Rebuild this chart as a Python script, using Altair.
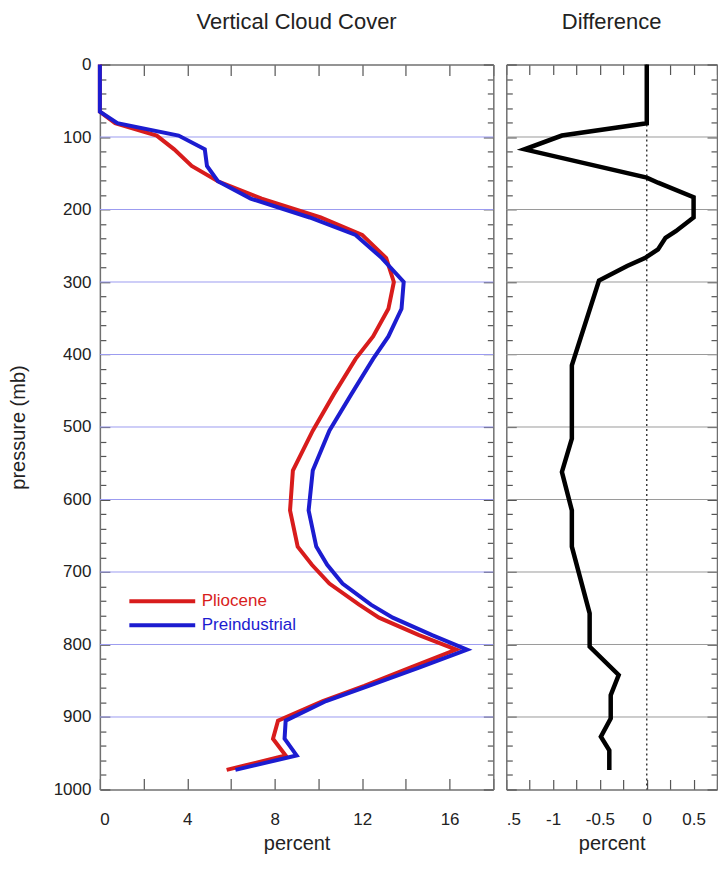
import altair as alt
import pandas as pd

# ---------------- data ----------------
pressure_levels = [0, 65, 81, 98, 117, 140, 161, 185, 211, 235, 267, 300, 337, 375, 406,
                   455, 505, 560, 615, 665, 690, 716, 745, 763, 787, 807, 832, 857, 878,
                   905, 930, 953, 973]
pliocene = [0, 0, 0.7, 2.6, 3.4, 4.2, 5.4, 7.4, 10.1, 12.0, 13.1, 13.45, 13.2, 12.5, 11.7,
            10.7, 9.74, 8.83, 8.7, 9.05, 9.7, 10.5, 11.86, 12.77, 14.6, 16.3, 14.2, 12.1, 10.2,
            8.15, 7.92, 8.5, 5.8]
preindustrial = [0, 0, 0.8, 3.6, 4.8, 4.9, 5.4, 6.9, 9.6, 11.7, 12.9, 13.9, 13.8, 13.2, 12.5,
                 11.5, 10.5, 9.74, 9.55, 9.9, 10.4, 11.1, 12.4, 13.4, 15.2, 16.8, 14.6, 12.3, 10.35,
                 8.5, 8.45, 9.0, 6.2]

diff_pressure = [0, 81, 98, 117, 156, 163, 183, 211, 230, 239, 255, 267, 278, 298, 415,
                 516, 562, 615, 665, 757, 803, 842, 870, 902, 927, 946, 973]
difference = [0, 0, -0.906, -1.305, 0, 0.12, 0.5, 0.5, 0.31, 0.2, 0.12, -0.02, -0.21, -0.51,
              -0.80, -0.80, -0.906, -0.80, -0.80, -0.61, -0.61, -0.30, -0.385, -0.385, -0.49,
              -0.40, -0.40]

series_names = ["Pliocene", "Preindustrial"]
grid_pressure = [100, 200, 300, 400, 500, 600, 700, 800, 900]
y_ticks = list(range(0, 1001, 20))
x_ticks_left = [0, 2, 4, 6, 8, 10, 12, 14, 16, 18]
x_ticks_right = [-1.5, -1.25, -1.0, -0.75, -0.5, -0.25, 0.0, 0.25, 0.5, 0.75]
zero_line = [0]

FONT = "Liberation Sans"
RED = "#d81c1c"
BLUE = "#1c1cd0"

rows = []
for name, vals in zip(series_names, [pliocene, preindustrial]):
    for i, (p, v) in enumerate(zip(pressure_levels, vals)):
        rows.append({"series": name, "pressure": p, "percent": v, "idx": i})
cloud = pd.DataFrame(rows)
diff_df = pd.DataFrame({"pressure": diff_pressure, "diff": difference,
                        "idx": list(range(len(diff_pressure)))})
grid_df = pd.DataFrame({"p": grid_pressure})
zero_df = pd.DataFrame({"z": zero_line})

yscale = alt.Scale(domain=[0, 1000], reverse=True, nice=False, zero=False)
xl_scale = alt.Scale(domain=[0, 18], nice=False, zero=False)
xr_scale = alt.Scale(domain=[-1.5, 0.75], nice=False, zero=False)

Y_TICK = {"expr": "datum.value % 100 == 0 ? -10 : -6"}
X_TICK = {"expr": "-11"}

# ---------------- left panel ----------------
grid_left = alt.Chart(grid_df).mark_rule(color="#9c9cf0", strokeWidth=1).encode(
    y=alt.Y("p:Q", scale=yscale,
            axis=alt.Axis(orient="left", values=y_ticks, format="d",
                          labelExpr="datum.value % 100 == 0 ? datum.label : ''",
                          tickSize=Y_TICK, labelPadding=19,
                          title="pressure (mb)", titlePadding=25))
)

top_left = alt.Chart(cloud).mark_point(opacity=0).encode(
    x=alt.X("percent:Q", scale=xl_scale,
            axis=alt.Axis(orient="top", values=x_ticks_left, labels=False,
                          tickSize=X_TICK, title=None)),
    y=alt.Y("pressure:Q", scale=yscale, axis=None),
)

lines_left = alt.Chart(cloud).mark_line(strokeWidth=4).encode(
    x=alt.X("percent:Q", scale=xl_scale,
            axis=alt.Axis(orient="bottom", values=x_ticks_left,
                          labelExpr="datum.value % 4 == 0 ? datum.label : ''",
                          tickSize=X_TICK, labelPadding=33,
                          title="percent", titlePadding=6)),
    y=alt.Y("pressure:Q", scale=yscale,
            axis=alt.Axis(orient="right", values=y_ticks, labels=False,
                          tickSize=Y_TICK, title=None)),
    color=alt.Color("series:N",
                    scale=alt.Scale(domain=series_names, range=[RED, BLUE]),
                    legend=alt.Legend(orient="none", legendX=52, legendY=527, title=None,
                                      symbolType="M-3.88,0H3.88", symbolStrokeWidth=4,
                                      symbolSize=289, labelFontSize=17, labelFont=FONT,
                                      labelColor={"expr": "datum.label == 'Pliocene' ? '%s' : '%s'" % (RED, BLUE)},
                                      labelOffset=29, rowPadding=5, padding=0)),
    order=alt.Order("idx:Q"),
)

left = alt.layer(grid_left, top_left, lines_left).resolve_axis(
    x="independent", y="independent"
).properties(
    width=394, height=726,
    title=alt.TitleParams("Vertical Cloud Cover", fontSize=22, font=FONT,
                          fontWeight="normal", offset=22, anchor="middle", color="#222"),
)

# ---------------- right panel ----------------
grid_right = alt.Chart(grid_df).mark_rule(color="#9a9a9a", strokeWidth=1).encode(
    y=alt.Y("p:Q", scale=yscale,
            axis=alt.Axis(orient="left", values=y_ticks, labels=False,
                          tickSize=Y_TICK, title=None))
)

zero_rule = alt.Chart(zero_df).mark_rule(color="#222", strokeWidth=1.3,
                                         strokeDash=[2, 3]).encode(
    x=alt.X("z:Q", scale=xr_scale,
            axis=alt.Axis(orient="top", values=x_ticks_right, labels=False,
                          tickSize={"expr": "-10"}, title=None))
)

diff_line = alt.Chart(diff_df).mark_line(strokeWidth=4.5, color="#000").encode(
    x=alt.X("diff:Q", scale=xr_scale,
            axis=alt.Axis(orient="bottom", values=x_ticks_right,
                          labelExpr="datum.value == -1.5 ? '.5' : (datum.value * 2 == round(datum.value * 2) ? '' + datum.value : '')",
                          labelFlush=True,
                          tickSize={"expr": "-10"}, labelPadding=32,
                          title="percent", titlePadding=6)),
    y=alt.Y("pressure:Q", scale=yscale,
            axis=alt.Axis(orient="right", values=y_ticks, labels=False,
                          tickSize=Y_TICK, title=None)),
    order=alt.Order("idx:Q"),
)

right = alt.layer(grid_right, zero_rule, diff_line).resolve_axis(
    x="independent", y="independent"
).properties(
    width=211, height=726,
    title=alt.TitleParams("Difference", fontSize=22, font=FONT,
                          fontWeight="normal", offset=22, anchor="middle", color="#222"),
)

chart = alt.hconcat(left, right, spacing=11).configure_view(
    strokeWidth=0
).configure_axis(
    grid=False,
    domainColor="#707070", domainWidth=1.5,
    tickColor="#555", tickWidth=1.2,
    labelFont=FONT, labelFontSize=17, labelColor="#222",
    titleFont=FONT, titleFontSize=20, titleFontWeight="normal", titleColor="#222",
).properties(
    padding={"left": 0, "top": 2, "right": 0, "bottom": 0},
)

chart.save("out.html", embed_options={"renderer": "svg", "actions": False})
